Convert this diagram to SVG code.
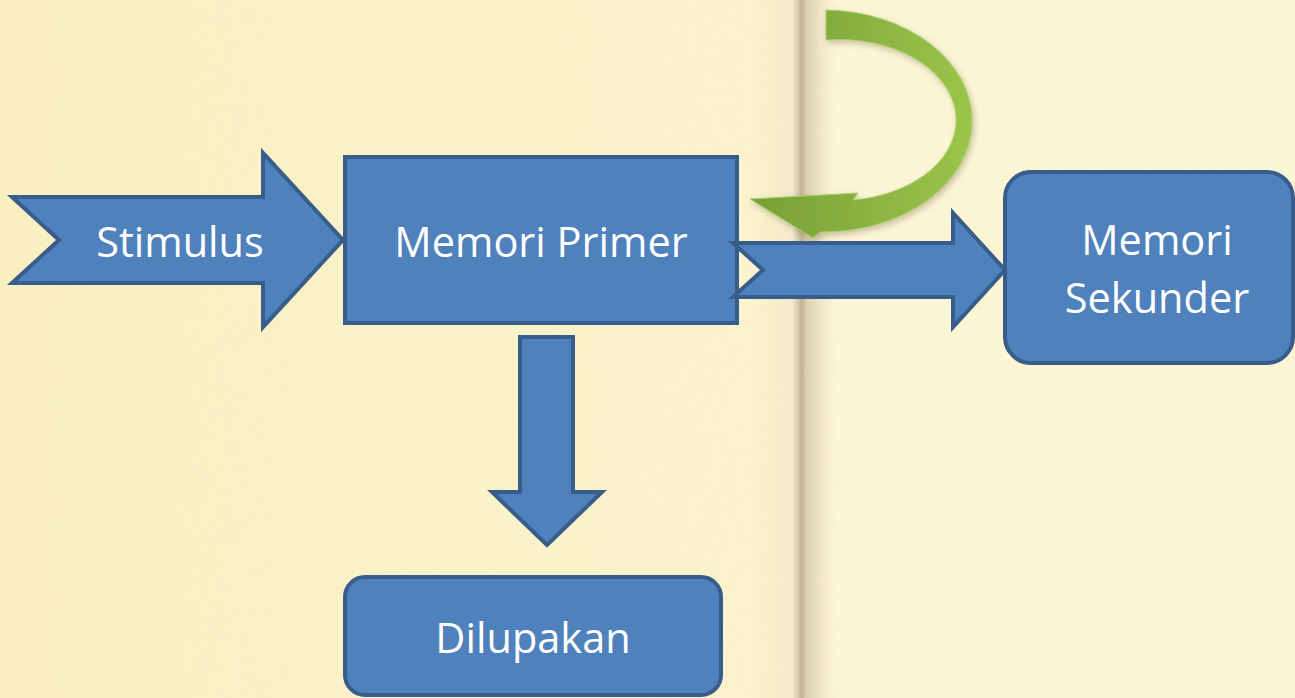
<svg xmlns="http://www.w3.org/2000/svg" width="1295" height="698" viewBox="0 0 1295 698">
  <defs>
    <linearGradient id="paper" x1="0" y1="0" x2="1295" y2="0" gradientUnits="userSpaceOnUse">
      <stop offset="0" stop-color="#f9efc0"/>
      <stop offset="0.3" stop-color="#faf2c8"/>
      <stop offset="0.58" stop-color="#faf3cc"/>
      <stop offset="0.612" stop-color="#f3ebcb"/>
      <stop offset="0.619" stop-color="#c2b293"/>
      <stop offset="0.623" stop-color="#dccfae"/>
      <stop offset="0.634" stop-color="#f0e8c9"/>
      <stop offset="0.645" stop-color="#fcf6d6"/>
      <stop offset="1" stop-color="#fcf6d4"/>
    </linearGradient>
    <linearGradient id="green" x1="750" y1="0" x2="975" y2="0" gradientUnits="userSpaceOnUse">
      <stop offset="0" stop-color="#779f37"/>
      <stop offset="1" stop-color="#9cc54b"/>
    </linearGradient>
    <filter id="grain" x="0" y="0" width="100%" height="100%">
      <feTurbulence type="fractalNoise" baseFrequency="0.9 0.02" numOctaves="2" seed="3" result="n"/>
      <feColorMatrix in="n" type="matrix" values="0 0 0 0 0.8  0 0 0 0 0.72  0 0 0 0 0.55  0 0 0 0.2 -0.05"/>
    </filter>
    <filter id="shadow" x="-10%" y="-10%" width="130%" height="130%">
      <feDropShadow dx="2" dy="3" stdDeviation="3" flood-color="#6b5a30" flood-opacity="0.35"/>
    </filter>
    <style>
      .blue { fill: #4f81bd; stroke: #385d8a; stroke-width: 4; stroke-linejoin: miter; }
      .lbl { fill: #ffffff; font-family: "Open Sans", "Noto Sans", "Liberation Sans", sans-serif; font-size: 41.5px; text-anchor: middle; }
    </style>
  </defs>

  <g id="background">
    <rect x="0" y="0" width="1295" height="698" fill="url(#paper)"/>
    <rect x="0" y="0" width="1295" height="698" filter="url(#grain)" opacity="0.3"/>
  </g>

  <g id="connectors">
    <path id="curved-arrow" d="M826,10 A149,111 0 0 1 820,232 L813,238 L750,199 L858,193 L853,200 A116,80 0 0 0 826,40 Z" fill="url(#green)" stroke="#a8cf6a" stroke-width="1" filter="url(#shadow)"/>
    <polygon id="arrow-down" class="blue" points="520,337 573,337 573,492 602,492 547,545 492,492 520,492"/>
  </g>

  <g id="node-stimulus">
    <polygon class="blue" points="12,197 263,197 263,153 343,240 263,327 263,283 12,283 59,240"/>
    <text class="lbl" x="180" y="257">Stimulus</text>
  </g>

  <g id="node-memori-primer">
    <rect class="blue" x="345" y="157" width="392" height="166"/>
    <text class="lbl" x="541" y="257">Memori Primer</text>
  </g>

  <g id="connector-right">
    <polygon class="blue" points="733,243 953,243 953,213 1005,270 953,327 953,297 733,297 763,270"/>
  </g>

  <g id="node-memori-sekunder">
    <rect class="blue" x="1005" y="172" width="288" height="191" rx="26" ry="26"/>
    <text class="lbl" x="1157" y="255">Memori</text>
    <text class="lbl" x="1157" y="313">Sekunder</text>
  </g>

  <g id="node-dilupakan">
    <rect class="blue" x="345" y="577" width="376" height="118" rx="20" ry="20"/>
    <text class="lbl" x="533" y="653">Dilupakan</text>
  </g>
</svg>
